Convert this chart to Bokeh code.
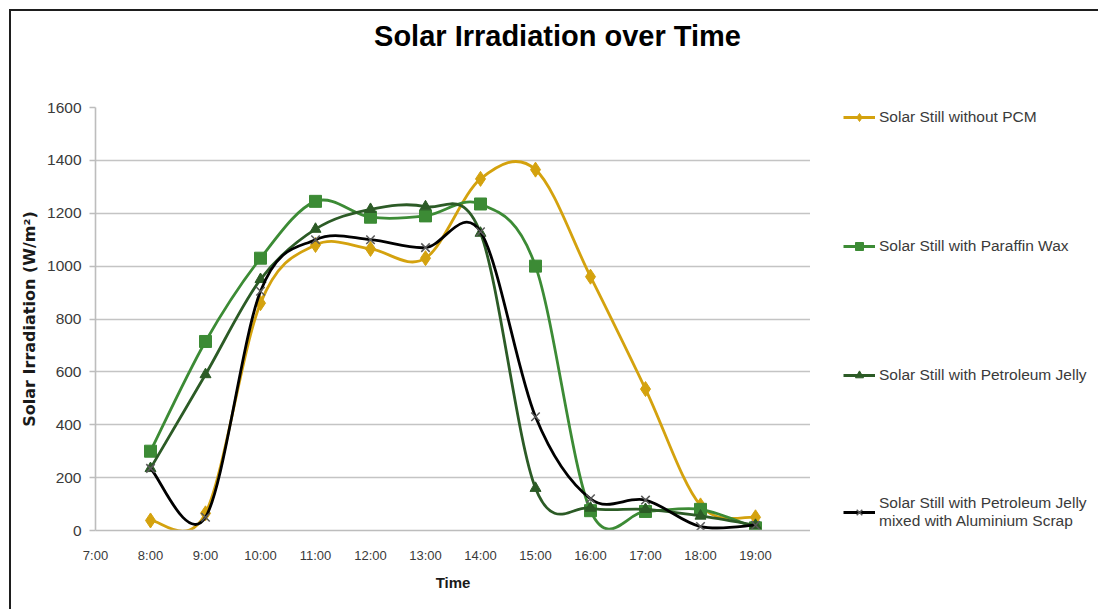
from bokeh.plotting import figure
from bokeh.models import FixedTicker, Legend, LegendItem, ColumnDataSource, Label
from bokeh.layouts import row, column
from bokeh.embed import file_html
from bokeh.resources import INLINE

# ---------------- data ----------------
hours = [8, 9, 10, 11, 12, 13, 14, 15, 16, 17, 18, 19]
tick_hours = [7, 8, 9, 10, 11, 12, 13, 14, 15, 16, 17, 18, 19]
tick_labels = ["7:00", "8:00", "9:00", "10:00", "11:00", "12:00", "13:00",
               "14:00", "15:00", "16:00", "17:00", "18:00", "19:00"]
y_ticks = [0, 200, 400, 600, 800, 1000, 1200, 1400, 1600]
x_axis_end = 20

without_pcm = [38, 65, 860, 1080, 1065, 1030, 1330, 1365, 960, 535, 95, 50]
paraffin_wax = [300, 715, 1030, 1245, 1185, 1190, 1235, 1000, 75, 72, 80, 10]
petroleum_jelly = [235, 590, 950, 1140, 1215, 1225, 1125, 160, 85, 80, 55, 20]
pj_aluminium = [235, 50, 905, 1100, 1100, 1070, 1130, 430, 120, 115, 15, 20]

series_names = ["Solar Still without PCM",
                "Solar Still with Paraffin Wax",
                "Solar Still with Petroleum Jelly",
                "Solar Still with Petroleum Jelly\nmixed with Aluminium Scrap"]

FONT = "Liberation Sans"


def smooth_segments(xs, ys):
    """Bezier control points (Catmull-Rom style) like a smoothed spreadsheet line."""
    n = len(xs)
    d = dict(x0=[], y0=[], x1=[], y1=[], cx0=[], cy0=[], cx1=[], cy1=[])
    for i in range(n - 1):
        xp, yp = (xs[i - 1], ys[i - 1]) if i > 0 else (xs[i], ys[i])
        xn2, yn2 = (xs[i + 2], ys[i + 2]) if i + 2 < n else (xs[i + 1], ys[i + 1])
        d["x0"].append(xs[i]); d["y0"].append(ys[i])
        d["x1"].append(xs[i + 1]); d["y1"].append(ys[i + 1])
        d["cx0"].append(xs[i] + (xs[i + 1] - xp) / 6)
        d["cy0"].append(ys[i] + (ys[i + 1] - yp) / 6)
        d["cx1"].append(xs[i + 1] - (xn2 - xs[i]) / 6)
        d["cy1"].append(ys[i + 1] - (yn2 - ys[i]) / 6)
    return ColumnDataSource(d)


def blank_figure(w, h):
    f = figure(width=w, height=h, output_backend="svg", toolbar_location=None,
               x_range=(0, 1), y_range=(0, 1), x_axis_location=None,
               y_axis_location=None, min_border=0)
    f.grid.visible = False
    f.outline_line_color = None
    f.background_fill_color = "white"
    f.border_fill_color = "white"
    return f


# ---------------- title strip ----------------
tf = blank_figure(1087, 89)
tf.add_layout(Label(x=546, y=65, x_units="screen", y_units="screen",
                    text="Solar Irradiation over Time", text_align="center",
                    text_baseline="middle", text_font=FONT, text_font_style="bold",
                    text_font_size="29px", text_color="#000000"))

# ---------------- main chart ----------------
p = figure(width=799, height=509, output_backend="svg", toolbar_location=None,
           x_range=(tick_hours[0], x_axis_end), y_range=(y_ticks[0], y_ticks[-1]),
           min_border=0, min_border_left=84, min_border_right=0,
           min_border_top=7, min_border_bottom=79)
p.outline_line_color = None
p.background_fill_color = "white"
p.border_fill_color = "white"

p.xgrid.grid_line_color = None
p.ygrid.grid_line_color = "#C4C4C4"
p.ygrid.grid_line_width = 1.6
p.yaxis.ticker = FixedTicker(ticks=y_ticks)
p.xaxis.ticker = FixedTicker(ticks=tick_hours)
p.xaxis.major_label_overrides = {h: l for h, l in zip(tick_hours, tick_labels)}

for ax in (p.xaxis[0], p.yaxis[0]):
    ax.axis_line_color = "#BDBDBD"
    ax.axis_line_width = 1.6
    ax.minor_tick_line_color = None
    ax.major_label_text_font = FONT
    ax.major_label_text_color = "#3A3A3A"
    ax.axis_label_text_font_style = "bold"
    ax.axis_label_text_color = "#1A1A1A"
p.xaxis.major_label_text_font_size = "13px"
p.yaxis.major_label_text_font_size = "15.5px"
p.xaxis.major_tick_line_color = None
p.xaxis.major_label_standoff = 11
p.yaxis.major_tick_line_color = "#BDBDBD"
p.yaxis.major_tick_line_width = 1.6
p.yaxis.major_tick_out = 6
p.yaxis.major_tick_in = 0
p.yaxis.major_label_standoff = 8

p.xaxis.axis_label = "Time"
p.xaxis.axis_label_text_font = FONT
p.xaxis.axis_label_text_font_size = "15px"
p.xaxis.axis_label_standoff = 8
p.yaxis.axis_label = "Solar Irradiation (W/m²)"
p.yaxis.axis_label_text_font = "DejaVu Sans"
p.yaxis.axis_label_text_font_size = "16px"
p.yaxis.axis_label_standoff = 5

colors = ["#D4A20E", "#3C8B35", "#2C5B26", "#000000"]
markers = ["diamond", "square", "triangle", "x"]
msizes = [15, 12, 11, 12]
series = [without_pcm, paraffin_wax, petroleum_jelly, pj_aluminium]

# ---------------- legend panel ----------------
lf = blank_figure(288, 509)

items = []
for name, ys, c, m, s in zip(series_names, series, colors, markers, msizes):
    src = smooth_segments(hours, ys)
    p.bezier(x0="x0", y0="y0", x1="x1", y1="y1", cx0="cx0", cy0="cy0",
             cx1="cx1", cy1="cy1", source=src, line_color=c, line_width=2.8)
    if m == "x":
        p.scatter(hours, ys, marker=m, size=s, line_color="#5A5A5A", line_width=1.5)
    else:
        p.scatter(hours, ys, marker=m, size=s, fill_color=c, line_color=c)
    # legend glyph renderers (their data lie outside this panel's ranges)
    l_line = lf.line(hours, ys, line_color=c, line_width=2.8)
    if m == "x":
        l_mark = lf.scatter(hours, ys, marker=m, size=s, line_color="#5A5A5A",
                            line_width=1.5)
    else:
        l_mark = lf.scatter(hours, ys, marker=m, size=s, fill_color=c, line_color=c)
    items.append(LegendItem(label=name, renderers=[l_line, l_mark]))

legend = Legend(items=items, location=(33, 0), padding=0, margin=0,
                spacing=109, glyph_width=32, glyph_height=20, label_height=20,
                label_standoff=4, label_text_font=FONT,
                label_text_font_size="15.5px", label_text_color="#3A3A3A",
                label_text_line_height=1.15,
                border_line_color=None, background_fill_alpha=0)
lf.add_layout(legend)

layout = column(tf, row(p, lf, spacing=0), spacing=0)
layout.styles = {"margin-left": "9px", "margin-top": "9px",
                 "border-top": "2px solid #1E1E1E", "border-left": "2px solid #1E1E1E"}

open("out.html", "w").write(file_html(layout, INLINE))
